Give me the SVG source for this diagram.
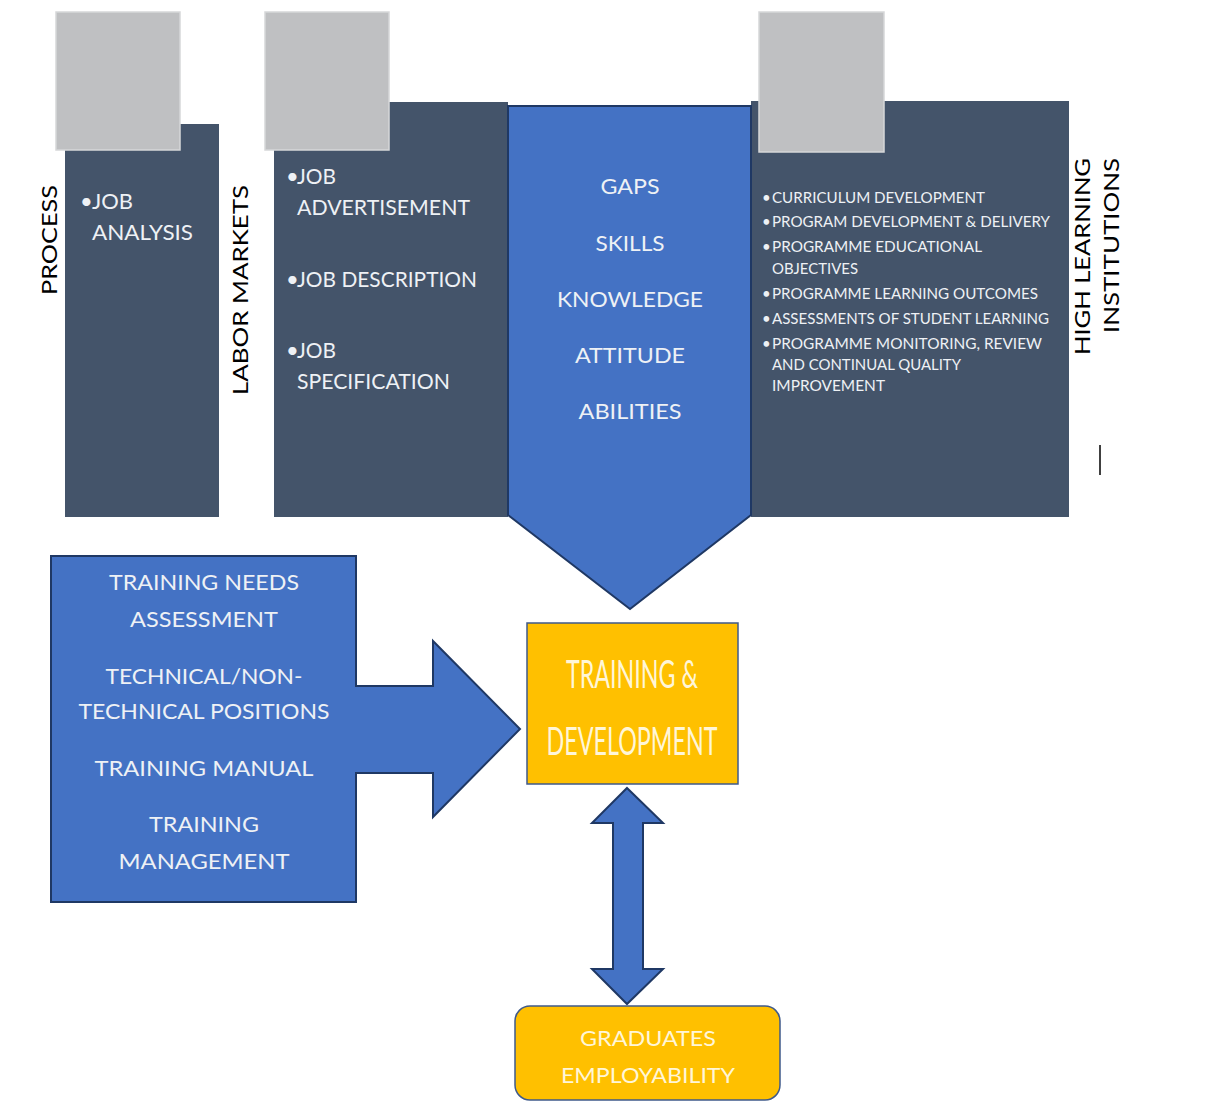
<svg xmlns="http://www.w3.org/2000/svg" width="1209" height="1106" viewBox="0 0 1209 1106">
<style>
text{font-family:Lato,"Open Sans","Liberation Sans",sans-serif}
.dark{fill:#44546A}
.gray{fill:#BFC0C2;stroke:#D6D7D9;stroke-width:1.5}
.blue{fill:#4472C4;stroke:#1F3864;stroke-width:2}
.gold{fill:#FFC000;stroke:#3F5A8A;stroke-width:1.5}
.wt{fill:#EEF1F5}
.lbl{fill:#000;font-size:22px}
.s22{font-size:22px}
.s21{font-size:21px}
.ls{font-size:15px;fill:#EEF1F5}
.c{text-anchor:middle}
.yt{fill:#FFF6D8}
</style>
<rect width="1209" height="1106" fill="#fff"/>

<g id="process">
<rect class="dark" x="65" y="124" width="154" height="393"/>
<rect class="gray" x="56" y="12" width="124" height="138"/>
<text class="lbl c" transform="translate(57,240) rotate(-90)" textLength="110" lengthAdjust="spacingAndGlyphs">PROCESS</text>
<text class="wt s22" x="80" y="209">•<tspan x="92" textLength="41" lengthAdjust="spacingAndGlyphs">JOB</tspan></text>
<text class="wt s22" x="92" y="240" textLength="101" lengthAdjust="spacingAndGlyphs">ANALYSIS</text>
</g>

<g id="labor-markets">
<rect class="dark" x="274" y="102" width="234" height="415"/>
<rect class="gray" x="265" y="12" width="124" height="138"/>
<text class="lbl c" transform="translate(248,290) rotate(-90)" textLength="210" lengthAdjust="spacingAndGlyphs">LABOR MARKETS</text>
<text class="wt s22" x="286" y="184">•<tspan x="297" textLength="39" lengthAdjust="spacingAndGlyphs">JOB</tspan></text>
<text class="wt s22" x="297" y="215" textLength="173" lengthAdjust="spacingAndGlyphs">ADVERTISEMENT</text>
<text class="wt s22" x="286" y="287">•<tspan x="297" textLength="180" lengthAdjust="spacingAndGlyphs">JOB DESCRIPTION</tspan></text>
<text class="wt s22" x="286" y="358">•<tspan x="297" textLength="39" lengthAdjust="spacingAndGlyphs">JOB</tspan></text>
<text class="wt s22" x="297" y="389" textLength="153" lengthAdjust="spacingAndGlyphs">SPECIFICATION</text>
</g>

<g id="high-learning">
<rect class="dark" x="751" y="101" width="318" height="416"/>
<rect class="gray" x="759" y="12" width="125" height="140"/>
<text class="lbl" transform="translate(1090,355) rotate(-90)" textLength="197" lengthAdjust="spacingAndGlyphs">HIGH LEARNING</text>
<text class="lbl" transform="translate(1119,333) rotate(-90)" textLength="175" lengthAdjust="spacingAndGlyphs">INSTITUTIONS</text>
<line x1="1100" y1="445" x2="1100" y2="475" stroke="#000" stroke-width="1.5"/>
<g class="ls">
<text x="762" y="203">•</text><text x="772" y="203" textLength="213" lengthAdjust="spacingAndGlyphs">CURRICULUM DEVELOPMENT</text>
<text x="762" y="227">•</text><text x="772" y="227" textLength="278" lengthAdjust="spacingAndGlyphs">PROGRAM DEVELOPMENT &amp; DELIVERY</text>
<text x="762" y="252">•</text><text x="772" y="252" textLength="210" lengthAdjust="spacingAndGlyphs">PROGRAMME EDUCATIONAL</text>
<text x="772" y="274" textLength="86" lengthAdjust="spacingAndGlyphs">OBJECTIVES</text>
<text x="762" y="299">•</text><text x="772" y="299" textLength="266" lengthAdjust="spacingAndGlyphs">PROGRAMME LEARNING OUTCOMES</text>
<text x="762" y="324">•</text><text x="772" y="324" textLength="277" lengthAdjust="spacingAndGlyphs">ASSESSMENTS OF STUDENT LEARNING</text>
<text x="762" y="349">•</text><text x="772" y="349" textLength="270" lengthAdjust="spacingAndGlyphs">PROGRAMME MONITORING, REVIEW</text>
<text x="772" y="370" textLength="189" lengthAdjust="spacingAndGlyphs">AND CONTINUAL QUALITY</text>
<text x="772" y="391" textLength="113" lengthAdjust="spacingAndGlyphs">IMPROVEMENT</text>
</g>
</g>

<g id="gaps">
<path class="blue" d="M508,106 L751,106 L751,515 L630,609 L508,515 Z"/>
<g class="wt s21 c">
<text x="630" y="194" textLength="59" lengthAdjust="spacingAndGlyphs">GAPS</text>
<text x="630" y="251" textLength="69" lengthAdjust="spacingAndGlyphs">SKILLS</text>
<text x="630" y="307" textLength="146" lengthAdjust="spacingAndGlyphs">KNOWLEDGE</text>
<text x="630" y="363" textLength="110" lengthAdjust="spacingAndGlyphs">ATTITUDE</text>
<text x="630" y="419" textLength="103" lengthAdjust="spacingAndGlyphs">ABILITIES</text>
</g>
</g>

<g id="training-needs">
<path class="blue" d="M51,556 L356,556 L356,686 L433,686 L433,641 L520,729 L433,817 L433,773 L356,773 L356,902 L51,902 Z"/>
<g class="wt s22 c">
<text x="204" y="590" textLength="190" lengthAdjust="spacingAndGlyphs">TRAINING NEEDS</text>
<text x="204" y="627" textLength="148" lengthAdjust="spacingAndGlyphs">ASSESSMENT</text>
<text x="204" y="684" textLength="197" lengthAdjust="spacingAndGlyphs">TECHNICAL/NON-</text>
<text x="204" y="719" textLength="251" lengthAdjust="spacingAndGlyphs">TECHNICAL POSITIONS</text>
<text x="204" y="776" textLength="219" lengthAdjust="spacingAndGlyphs">TRAINING MANUAL</text>
<text x="204" y="832" textLength="110" lengthAdjust="spacingAndGlyphs">TRAINING</text>
<text x="204" y="869" textLength="171" lengthAdjust="spacingAndGlyphs">MANAGEMENT</text>
</g>
</g>

<g id="training-development">
<rect class="gold" x="527" y="623" width="211" height="161"/>
<text class="yt c" x="632" y="688" font-size="38" textLength="132" lengthAdjust="spacingAndGlyphs">TRAINING &amp;</text>
<text class="yt c" x="632" y="755" font-size="38" textLength="171" lengthAdjust="spacingAndGlyphs">DEVELOPMENT</text>
</g>

<g id="connectors">
<path class="blue" d="M627,788 L663,823 L643,823 L643,969 L663,969 L627,1004 L592,969 L613,969 L613,823 L592,823 Z"/>
</g>

<g id="graduates">
<rect class="gold" x="515" y="1006" width="265" height="94" rx="15"/>
<text class="yt c s21" x="648" y="1046" textLength="136" lengthAdjust="spacingAndGlyphs">GRADUATES</text>
<text class="yt c s21" x="648" y="1083" textLength="174" lengthAdjust="spacingAndGlyphs">EMPLOYABILITY</text>
</g>
</svg>
